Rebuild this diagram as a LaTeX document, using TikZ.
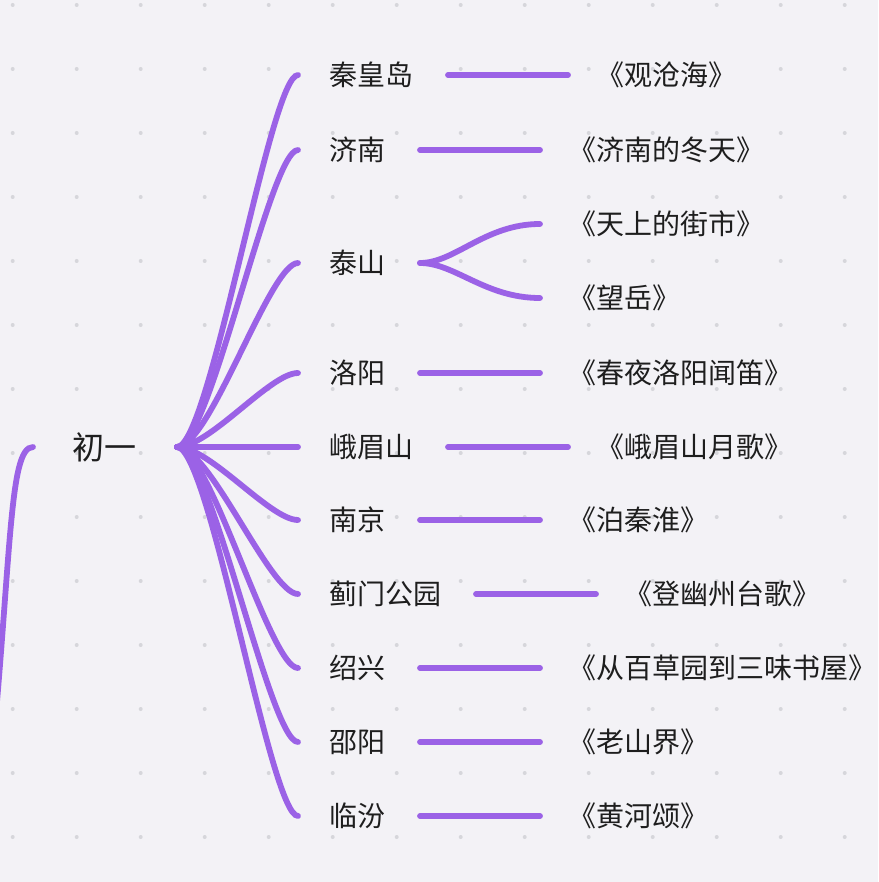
\documentclass[tikz,border=0pt]{standalone}
\usepackage{fontspec}
\newfontfamily\cjk{Noto Sans CJK SC}
\definecolor{bgc}{HTML}{F3F2F6}
\definecolor{dotc}{HTML}{D6D6DB}
\definecolor{lnc}{HTML}{9B62E6}
\definecolor{txc}{HTML}{1E1E1E}
\begin{document}
\begin{tikzpicture}[x=1pt,y=-1pt,
  br/.style={draw=lnc, line width=5.8pt, line cap=round},
  city/.style={anchor=west, inner sep=0pt, text=txc, font=\cjk\fontsize{28}{32}\selectfont},
  work/.style={anchor=west, inner sep=0pt, text=txc, font=\cjk\fontsize{28}{32}\selectfont},
  rootnode/.style={inner sep=0pt, text=txc, font=\cjk\fontsize{32}{36}\selectfont}]
\fill[bgc] (0,0) rectangle (878,882);
\useasboundingbox (0,0) rectangle (878,882);
\foreach \i in {0,...,13}{\foreach \j in {0,...,13}{\fill[dotc] (12.7+64*\i,5+64*\j) circle (2pt);}}

% incoming branch from the left
\coordinate (inc) at (-12,800);
\node[rootnode] (root) at (104,447) {初一};
\coordinate (rin) at (33,447);
\draw[br] (inc) .. controls (12,560) and (8,447) .. (rin);
\coordinate (rs) at (177,447);

% cities
\node[city] (c1) at (329,75) {秦皇岛};
\node[city] (c2) at (329,150) {济南};
\node[city] (c3) at (329,263) {泰山};
\node[city] (c4) at (329,373) {洛阳};
\node[city] (c5) at (329,447) {峨眉山};
\node[city] (c6) at (329,520) {南京};
\node[city] (c7) at (329,594) {蓟门公园};
\node[city] (c8) at (329,668) {绍兴};
\node[city] (c9) at (329,742) {邵阳};
\node[city] (c10) at (329,816) {临汾};

\foreach \k in {1,...,10}{
  \draw[br] (rs) .. controls +(33,0) and +(-28,0) .. ([xshift=-31pt]c\k.west);
}

% works
\node[work] (w1) at (596.5,75) {《观沧海》};
\node[work] (w2) at (568.5,150) {《济南的冬天》};
\node[work] (w3a) at (568.5,224) {《天上的街市》};
\node[work] (w3b) at (568.5,298) {《望岳》};
\node[work] (w4) at (568.5,373) {《春夜洛阳闻笛》};
\node[work] (w5) at (596.5,447) {《峨眉山月歌》};
\node[work] (w6) at (568.5,520) {《泊秦淮》};
\node[work] (w7) at (624.5,594) {《登幽州台歌》};
\node[work] (w8) at (568.5,668) {《从百草园到三味书屋》};
\node[work] (w9) at (568.5,742) {《老山界》};
\node[work] (w10) at (568.5,816) {《黄河颂》};

\coordinate (s1) at (448,75);
\coordinate (s2) at (420,150);
\coordinate (s3) at (420,263);
\coordinate (s4) at (420,373);
\coordinate (s5) at (448,447);
\coordinate (s6) at (420,520);
\coordinate (s7) at (476,594);
\coordinate (s8) at (420,668);
\coordinate (s9) at (420,742);
\coordinate (s10) at (420,816);

\foreach \k in {1,2,4,5,6,7,8,9,10}{
  \draw[br] (s\k) -- ([xshift=-28.5pt]w\k.west);
}
\draw[br] (s3) .. controls +(35,0) and +(-55,0) .. ([xshift=-28.5pt]w3a.west);
\draw[br] (s3) .. controls +(35,0) and +(-55,0) .. ([xshift=-28.5pt]w3b.west);
\end{tikzpicture}
\end{document}
